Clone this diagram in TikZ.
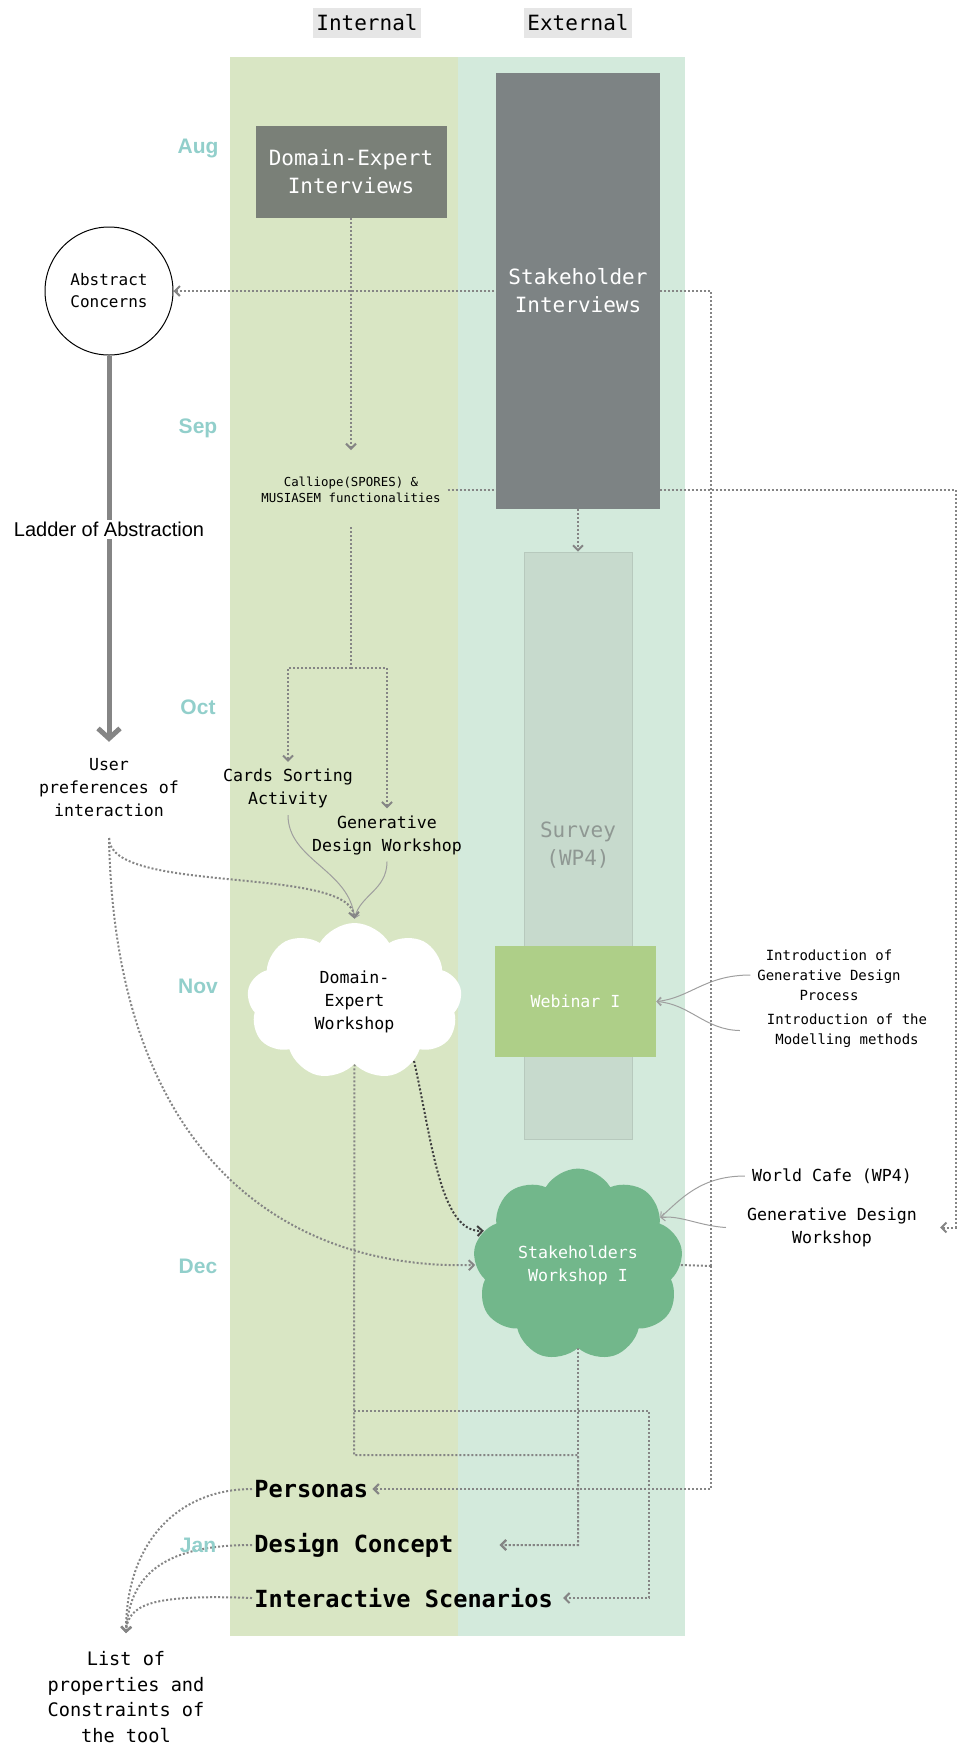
\documentclass[tikz,border=0pt]{standalone}
\usepackage{fontspec}
\setmainfont{Liberation Sans}
\setmonofont{DejaVu Sans Mono}
\usetikzlibrary{arrows.meta,shapes.symbols,positioning}

\definecolor{intlane}{HTML}{D9E6C4}
\definecolor{extlane}{HTML}{D3EADC}
\definecolor{headbg}{HTML}{E6E6E6}
\definecolor{darkbox}{HTML}{7A8078}
\definecolor{stakebox}{HTML}{7D8384}
\definecolor{surveybox}{HTML}{C7DACD}
\definecolor{surveytxt}{HTML}{8F9893}
\definecolor{webgreen}{HTML}{AECF88}
\definecolor{cloudgreen}{HTML}{72B78B}
\definecolor{monthcol}{HTML}{92CFCB}
\definecolor{linkcol}{HTML}{858585}

\pgfdeclarelayer{lanes}
\pgfdeclarelayer{links}
\pgfsetlayers{lanes,links,main}

\tikzset{
  colhead/.style={fill=headbg, minimum width=54pt, minimum height=15pt, inner sep=0pt,
    font=\ttfamily\fontsize{10.5}{13}\selectfont},
  monthlabel/.style={text=monthcol, font=\bfseries\fontsize{10.5}{12}\selectfont},
  greybox/.style={text=white, align=center, inner sep=0pt, font=\ttfamily\fontsize{10.5}{14}\selectfont},
  notetext/.style={align=center, font=\ttfamily\fontsize{8.3}{11.5}\selectfont},
  smallnote/.style={align=center, font=\ttfamily\fontsize{7}{10}\selectfont},
  outcome/.style={anchor=west, inner sep=1pt, font=\ttfamily\bfseries\fontsize{11.8}{14}\selectfont},
  puff/.style={cloud, cloud puffs=9, cloud puff arc=120, inner sep=0pt, align=center,
    font=\ttfamily\fontsize{8.3}{11.5}\selectfont},
  dotlink/.style={linkcol, densely dotted, line width=1pt, -{Straight Barb[length=2.5pt,width=5pt]}},
  thinlink/.style={gray!75, line width=0.5pt, -{Straight Barb[length=2pt,width=4pt]}},
}

\begin{document}
\begin{tikzpicture}[x=0.5pt,y=-0.5pt]
\useasboundingbox (0,0) rectangle (962,1746);

% Lanes
\begin{pgfonlayer}{lanes}
  \fill[intlane] (230,57) rectangle (458,1636);
  \fill[extlane] (458,57) rectangle (685,1636);
\end{pgfonlayer}

% Column heads
\node[colhead] (internal) at (367,23) {Internal};
\node[colhead] (external) at (578,23) {External};

% Months
\foreach \m/\y in {Aug/148,Sep/428,Oct/707,Nov/986,Dec/1266,Jan/1545}
  \node[monthlabel] (\m) at (198,\y) {\m};

% Interviews
\node[greybox, fill=darkbox, minimum width=95.5pt, minimum height=46pt] (dei) at (351,172) {Domain-Expert\\Interviews};
\node[greybox, fill=stakebox, minimum width=82pt, minimum height=218pt] (shi) at (578,291) {Stakeholder\\Interviews};

% Survey and webinar
\node[fill=surveybox, draw=surveybox!92!black, line width=0.3pt, text=surveytxt, align=center,
  font=\ttfamily\fontsize{10.5}{14}\selectfont, minimum width=54pt, minimum height=293.5pt] (survey) at (578,845.5) {Survey\\(WP4)};
\node[fill=webgreen, text=white, font=\ttfamily\fontsize{8.3}{11.5}\selectfont,
  minimum width=80.5pt, minimum height=55.5pt] (web) at (575.5,1001.5) {Webinar I};
\node[smallnote] (intro1) at (829,975) {Introduction of\\Generative Design\\Process};
\node[smallnote] (intro2) at (847,1030.5) {Introduction of the\\Modelling methods};

% Abstraction side
\node[circle, draw, line width=0.5pt, fill=white, minimum size=64pt, align=center,
  font=\ttfamily\fontsize{8}{11}\selectfont] (abs) at (109,291) {Abstract\\Concerns};
\node[notetext] (upi) at (109,788) {User\\preferences of\\interaction};

% Internal activities
\node[align=center, font=\ttfamily\fontsize{6.2}{8}\selectfont] (cal) at (351,490) {Calliope(SPORES) \&\\MUSIASEM functionalities};
\node[notetext] (cards) at (288,788.5) {Cards Sorting\\Activity};
\node[notetext] (gdw) at (387,835) {Generative\\Design Workshop};

% Workshops
\node[puff, fill=white, minimum width=107.5pt, minimum height=78.5pt] (dew) at (354.5,1001.5) {Domain-\\Expert\\Workshop};
\node[puff, fill=cloudgreen, text=white, minimum width=105pt, minimum height=72pt] (swi) at (578,1265) {Stakeholders\\Workshop I};
\node[notetext] (wcafe) at (832,1176) {World Cafe (WP4)};
\node[notetext] (gdw2) at (832,1227.5) {Generative Design\\Workshop};

% Outcomes
\node[outcome] (personas) at (252,1489) {Personas};
\node[outcome] (concept) at (252,1545) {Design Concept};
\node[outcome] (scen) at (252,1598) {Interactive Scenarios};
\node[align=center, font=\ttfamily\fontsize{9.3}{12.8}\selectfont] (list) at (126,1697) {List of\\properties and\\Constraints of\\the tool};

\begin{pgfonlayer}{links}
  % routing points
  \coordinate (calin) at (351,450);
  \coordinate (calout) at (351,527);
  \coordinate (split) at (351,668);
  \coordinate (hub) at (711,1266);
  \coordinate (upo) at (109,838);
  \coordinate (jn1) at (354,1411);
  \coordinate (jn2) at (354,1455);
  \coordinate (corner) at (649,1411);
  \coordinate (lin) at (126,1633);

  % Ladder of abstraction
  \draw[linkcol, line width=2.5pt, -{Straight Barb[length=5pt,width=11pt]}] (abs.south) -- ([yshift=5pt]upi.north)
    node[pos=0.45, fill=white, text=black, inner sep=1pt, font=\fontsize{10}{12}\selectfont] (ladder) {Ladder of Abstraction};

  % Interviews to activities
  \draw[dotlink] (dei.south) -- (calin);
  \draw[dotlink] (shi.south) -- (survey.north);
  \draw[dotlink] (cal.east) -- ++(254pt,0) |- ([xshift=8pt]gdw2.east);
  \draw[dotlink,-] (calout) -- (split);
  \draw[dotlink] (split) -| (cards.north);
  \draw[dotlink] (split) -| (gdw.north);

  % Into the domain-expert workshop
  \draw[thinlink] (cards.south) .. controls (288,860) and (350,870) .. ([yshift=2pt]dew.north);
  \draw[thinlink] (gdw.south) .. controls (387,890) and (360,895) .. ([yshift=2pt]dew.north);
  \draw[dotlink] (upo) .. controls (109,895) and (350,865) .. ([yshift=2pt]dew.north);
  \draw[dotlink] (upo) .. controls (115,1150) and (280,1270) .. (swi.west);

  % Webinar and stakeholder workshop notes
  \draw[thinlink] (intro1.west) .. controls (705,975) and (690,998) .. (web.east);
  \draw[thinlink] ([xshift=-10pt]intro2.west) .. controls (705,1030) and (690,1004) .. (web.east);
  \draw[thinlink] (wcafe.west) .. controls (700,1176) and (680,1200) .. (swi.30);
  \draw[thinlink] ([xshift=-7pt]gdw2.west) .. controls (700,1226) and (680,1215) .. (swi.30);
  \draw[dotlink, black!75] (dew.-45) .. controls (432,1140) and (440,1233) .. (swi.160);

  % Feedback loop
  \draw[dotlink,-] (swi.east) -- (hub);
  \draw[dotlink] (hub) |- (abs.east);
  \draw[dotlink] (hub) |- ([xshift=1pt]personas.east);

  % Towards the outcomes
  \draw[dotlink] (dew.south) -- (jn2) -| (swi.south |- concept.east) -- ([xshift=22pt]concept.east);
  \draw[dotlink] (swi.south) |- ([xshift=22pt]concept.east);
  \draw[dotlink] (jn1) -- (corner) |- ([xshift=4pt]scen.east);

  % Outcomes to the list
  \draw[dotlink] (personas.west) .. controls (180,1489) and (126,1540) .. (lin);
  \draw[dotlink] (concept.west) .. controls (170,1545) and (130,1570) .. (lin);
  \draw[dotlink] (scen.west) .. controls (150,1594) and (128,1605) .. (lin);
\end{pgfonlayer}

\end{tikzpicture}
\end{document}
